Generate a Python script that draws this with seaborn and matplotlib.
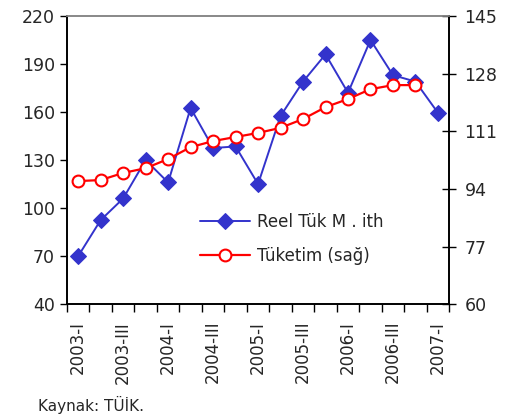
import matplotlib
matplotlib.use("Agg")
import matplotlib.pyplot as plt
import seaborn as sns
import pandas as pd
import numpy as np

quarters = ["2003-I", "2003-II", "2003-III", "2003-IV",
            "2004-I", "2004-II", "2004-III", "2004-IV",
            "2005-I", "2005-II", "2005-III", "2005-IV",
            "2006-I", "2006-II", "2006-III", "2006-IV",
            "2007-I"]
reel_tuk_ith = [70, 92.5, 106, 130, 116, 162.5, 137.5, 138.5, 115,
                157.5, 179, 196, 172, 205, 183, 179, 159.5]
tuketim = [96.3, 96.6, 98.7, 100.1, 102.8, 106.3, 108.1, 109.3, 110.5,
           112.0, 114.6, 118.1, 120.5, 123.4, 124.6, 124.6, np.nan]

left_ticks = [40, 70, 100, 130, 160, 190, 220]
right_ticks = [60, 77, 94, 111, 128, 145]

sns.set_style("white")
plt.rcParams["font.family"] = ["DejaVu Sans"]

df = pd.DataFrame({"pos": np.arange(len(quarters)),
                   "ith": reel_tuk_ith,
                   "tuk": tuketim})

fig = plt.figure(figsize=(5.07, 4.19), dpi=100)
ax = fig.add_axes([0.132, 0.274, 0.754, 0.688])
ax2 = ax.twinx()

blue = "#3333CC"
red = "#FF0000"

sns.lineplot(data=df, x="pos", y="ith", ax=ax, color=blue, marker="D",
             markersize=8, markeredgecolor=blue, linewidth=1.4,
             label="Reel Tük M . ith", legend=False)
sns.lineplot(data=df.dropna(), x="pos", y="tuk", ax=ax2, color=red, marker="o",
             markersize=8.5, markerfacecolor="white", markeredgecolor=red,
             markeredgewidth=1.5, linewidth=1.6, label="Tüketim (sağ)",
             legend=False)

n = len(quarters)
ax.set_xlim(-0.5, n - 0.5)
ax.set_ylim(40, 220)
ax2.set_ylim(60, 145)
ax.set_yticks(left_ticks)
ax2.set_yticks(right_ticks)

# category boundaries as tick marks, labels every other quarter
ax.set_xticks(np.arange(-0.5, n, 1.0))
ax.set_xticklabels([])
ax.set_xticks(np.arange(0, n, 2), minor=True)
ax.set_xticklabels([quarters[i] for i in range(0, n, 2)], minor=True,
                   rotation=90, fontsize=12)
ax.tick_params(axis="x", which="major", direction="out", length=6,
               width=1, color="black", bottom=True)
ax.tick_params(axis="x", which="minor", length=0, pad=12)

ax.tick_params(axis="y", direction="out", length=5, width=1, color="black",
               labelsize=12.5, left=True)
ax2.tick_params(axis="y", direction="inout", length=10, width=1, color="black",
                labelsize=12.5, right=True, pad=6)
ax.set_xlabel("")
ax.set_ylabel("")
ax2.set_ylabel("")

for a in (ax, ax2):
    a.spines["left"].set_color("black")
    a.spines["right"].set_color("black")
    a.spines["bottom"].set_color("black")
    a.spines["top"].set_color("#888888")
    for s in a.spines.values():
        s.set_linewidth(1.2)
ax.grid(False)
ax2.grid(False)

h1, l1 = ax.get_legend_handles_labels()
h2, l2 = ax2.get_legend_handles_labels()
ax2.legend(h1 + h2, l1 + l2, loc="upper left", bbox_to_anchor=(0.31, 0.37),
           frameon=False, fontsize=12, handlelength=3.0, handletextpad=0.4,
           labelspacing=1.0)

fig.text(0.075, 0.012, "Kaynak: TÜİK.", fontsize=11, ha="left", va="bottom")

fig.savefig("out.png", dpi=100)
